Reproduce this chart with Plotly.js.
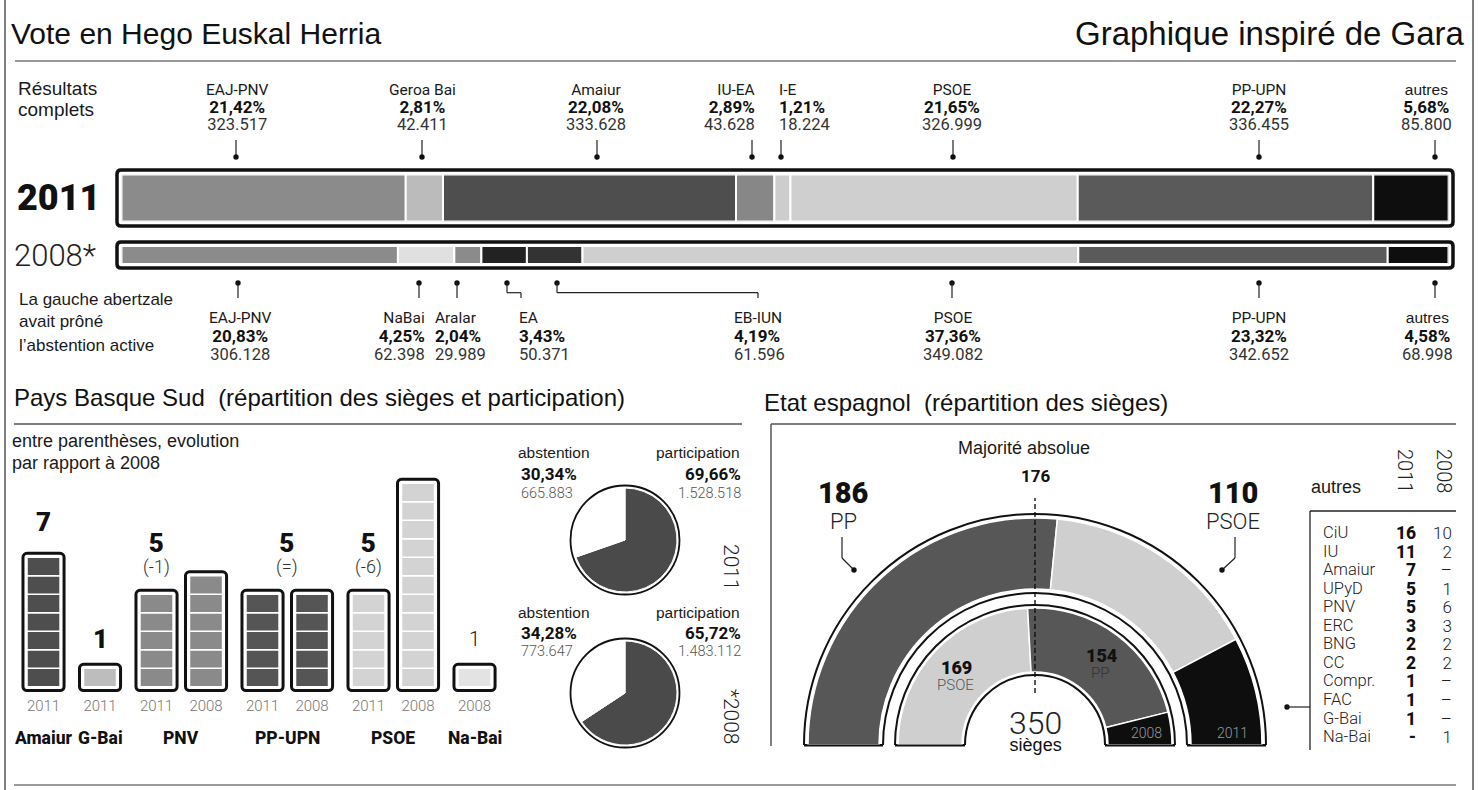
<!DOCTYPE html>
<html><head><meta charset="utf-8">
<script src="https://cdn.plot.ly/plotly-3.0.1.min.js"></script>
<style>html,body{margin:0;padding:0;background:#fff}#chart{width:1481px;height:790px}</style>
</head><body><div id="chart"></div>
<script>
// ================= DATA =================
const parties2011 = ['EAJ-PNV','Geroa Bai','Amaiur','IU-EA','I-E','PSOE','PP-UPN','autres'];
const pct2011 = [21.42,2.81,22.08,2.89,1.21,21.65,22.27,5.68];
const votes2011 = ['323.517','42.411','333.628','43.628','18.224','326.999','336.455','85.800'];

const parties2008 = ['EAJ-PNV','NaBai','Aralar','EA','EB-IUN','PSOE','PP-UPN','autres'];
const pct2008 = [20.83,4.25,2.04,3.43,4.19,37.36,23.32,4.58];
const votes2008 = ['306.128','62.398','29.989','50.371','61.596','349.082','342.652','68.998'];

const seatParty = ['Amaiur','G-Bai','PNV','PNV','PP-UPN','PP-UPN','PSOE','PSOE','Na-Bai'];
const seatYear  = ['2011','2011','2011','2008','2011','2008','2011','2008','2008'];
const seatCount = [7,1,5,6,5,5,5,11,1];
const headParty  = ['Amaiur','G-Bai','PNV','PP-UPN','PSOE','Na-Bai'];
const headValue  = ['7','1','5','5','5','1'];
const headChange = ['','','(-1)','(=)','(-6)',''];

const turnoutYears = ['2011','*2008'];
const participationPct = [69.66,65.72];
const abstentionPct = [30.34,34.28];
const participationVotes = ['1.528.518','1.483.112'];
const abstentionVotes = ['665.883','773.647'];

const congress2011Parties = ['PP','PSOE','autres'];
const congress2011Seats = [186,110,54];
const congress2008Parties = ['PSOE','PP','autres'];
const congress2008Seats = [169,154,27];
const totalSeats = 350;
const majority = 176;

const otherParties = ['CiU','IU','Amaiur','UPyD','PNV','ERC','BNG','CC','Compr.','FAC','G-Bai','Na-Bai'];
const other2011 = ['16','11','7','5','5','3','2','2','1','1','1','-'];
const other2008 = ['10','2','–','1','6','3','2','2','–','–','–','1'];

// ================= STYLE / LAYOUT HELPERS =================
const W=1481,H=790;
const px=x=>x/W, py=y=>1-y/H;
const ROB='Roboto, "Noto Sans", sans-serif';
const ARI='"Liberation Sans", Arial, sans-serif';
const col2011 = {'EAJ-PNV':'#8b8b8b','Geroa Bai':'#bbbbbb','Amaiur':'#4e4e4e','IU-EA':'#878787','I-E':'#cdcdcd','PSOE':'#cfcfcf','PP-UPN':'#5a5a5a','autres':'#0e0e0e'};
const col2008 = {'EAJ-PNV':'#8b8b8b','NaBai':'#e0e0e0','Aralar':'#8b8b8b','EA':'#222222','EB-IUN':'#333333','PSOE':'#cfcfcf','PP-UPN':'#5a5a5a','autres':'#0e0e0e'};
const seatCol = {'Amaiur':'#4e4e4e','G-Bai':'#bdbdbd','PNV':'#8a8a8a','PP-UPN':'#555555','PSOE':'#d3d3d3','Na-Bai':'#e3e3e3'};
const congCol = {'PP':'#575757','PSOE':'#cfcfcf','autres':'#0e0e0e'};

const annotations=[], shapes=[];
function txt(text,x,y,o={}){
  annotations.push({text:text,x:px(x),y:py(y),xref:'paper',yref:'paper',showarrow:false,
    xanchor:o.xa||'center',yanchor:o.ya||'middle',textangle:o.rot||0,align:o.al||'center',
    font:{family:o.f||ROB,size:o.s||15,color:o.c||'#1a1a1a',weight:o.w||400}});
}
function seg(x0,y0,x1,y1,o={}){
  shapes.push({type:'line',xref:'paper',yref:'paper',x0:px(x0),y0:py(y0),x1:px(x1),y1:py(y1),
    line:{color:o.c||'#222',width:o.w||1.2,dash:o.d||'solid'},layer:o.layer||'above'});
}
function dot(x,y,r){r=r||2.7;
  shapes.push({type:'circle',xref:'paper',yref:'paper',x0:px(x-r),x1:px(x+r),y0:py(y+r),y1:py(y-r),fillcolor:'#111',line:{width:0}});
}
function circ(cx,cy,r,w){
  shapes.push({type:'circle',xref:'paper',yref:'paper',x0:px(cx-r),x1:px(cx+r),y0:py(cy+r),y1:py(cy-r),fillcolor:'rgba(0,0,0,0)',line:{color:'#111',width:w||1.5},layer:'above'});
}
function rrect(x0,y0,x1,y1,r){
  const p=`M${px(x0+r)},${py(y0)} L${px(x1-r)},${py(y0)} Q${px(x1)},${py(y0)} ${px(x1)},${py(y0+r)} L${px(x1)},${py(y1-r)} Q${px(x1)},${py(y1)} ${px(x1-r)},${py(y1)} L${px(x0+r)},${py(y1)} Q${px(x0)},${py(y1)} ${px(x0)},${py(y1-r)} L${px(x0)},${py(y0+r)} Q${px(x0)},${py(y0)} ${px(x0+r)},${py(y0)} Z`;
  shapes.push({type:'path',xref:'paper',yref:'paper',path:p,line:{color:'#111',width:3.5},fillcolor:'#fff',layer:'below'});
}
const fmtPct=v=>v.toFixed(2).replace('.',',')+'%';
const cumul=a=>a.map((v,i)=>a.slice(0,i).reduce((s,x)=>s+x,0));
// three-line party label (name / bold % / votes) as one text block
function label3(name,pct,votes,x,yMid,anchor,spacing){
  const isAri=(name==='autres');
  const t='<span style="font-size:15.5px">'+name+'</span><br>'+
    '<span style="font-size:17px;font-weight:700;color:#111;font-family:Roboto">'+pct+'</span><br>'+
    '<span style="font-size:16.5px;color:#333;font-family:Roboto">'+votes+'</span>';
  txt(t,x,yMid,{xa:anchor,al:anchor,f:isAri?ARI:ROB,s:spacing/1.3,c:'#1a1a1a'});
}

const traces=[];

// ================= FRAME LINES =================
seg(5,0,5,790,{c:'#555',w:1.5});
seg(1473,0,1473,790,{c:'#555',w:1.5});
seg(15,61,1456,61,{c:'#777',w:1.5});
seg(14,424,742,424,{c:'#555',w:1.5});
seg(771,424,1456,424,{c:'#555',w:1.5});
seg(771,424,771,746,{c:'#555',w:1.5});
seg(14,785,1456,785,{c:'#777',w:1.5});

txt('Vote en Hego Euskal Herria',9,33,{xa:'left',f:ARI,s:30,c:'#111'});
txt('Graphique inspiré de Gara',1467,33,{xa:'right',f:ARI,s:33,c:'#111'});

// ================= HORIZONTAL STACKED BARS =================
rrect(117,170,1453,226,4);
rrect(117,242,1453,268,4);
traces.push({type:'bar',orientation:'h',xaxis:'x',yaxis:'y',y:pct2011.map(()=>0),x:pct2011,base:cumul(pct2011),width:1,
  marker:{color:parties2011.map(p=>col2011[p]),line:{color:'#fff',width:2}},hoverinfo:'skip'});
traces.push({type:'bar',orientation:'h',xaxis:'x2',yaxis:'y2',y:pct2008.map(()=>0),x:pct2008,base:cumul(pct2008),width:1,
  marker:{color:parties2008.map(p=>col2008[p]),line:{color:'#fff',width:2}},hoverinfo:'skip'});

txt('Résultats',16,88,{xa:'left',f:ARI,s:19});
txt('complets',16,110,{xa:'left',f:ARI,s:19});
txt('2011',15,198,{xa:'left',s:36,w:900,c:'#111'});
txt('2008*',12,256,{xa:'left',s:31,w:300,c:'#222'});
txt('La gauche abertzale',17,299,{xa:'left',f:ARI,s:17});
txt('avait prôné',17,322,{xa:'left',f:ARI,s:17});
txt('l’abstention active',17,345,{xa:'left',f:ARI,s:17});

const lab2011=[[237,'center'],[422,'center'],[596,'center'],[757,'right'],[777,'left'],[952,'center'],[1259,'center'],[1426,'center']];
const dot2011=[236,422,597,752,781,953,1259,1435];
parties2011.forEach((p,i)=>{
  const [x,a]=lab2011[i];
  label3(p,fmtPct(pct2011[i]),votes2011[i],x,108,a,17.75);
  seg(dot2011[i],140,dot2011[i],157);
  dot(dot2011[i],157);
});

const lab2008=[[240,'center'],[427,'right'],[433,'left'],[517,'left'],[732,'left'],[953,'center'],[1259,'center'],[1427,'center']];
const dot2008=[238,419,457,507,557,952,1259,1435];
const elbow2008=[null,null,null,521,758,null,null,null];
parties2008.forEach((p,i)=>{
  const [x,a]=lab2008[i];
  label3(p,fmtPct(pct2008[i]),votes2008[i],x,336.5,a,18.5);
  dot(dot2008[i],283);
  if(elbow2008[i]===null){ seg(dot2008[i],283,dot2008[i],298); }
  else { seg(dot2008[i],283,dot2008[i],292.7); seg(dot2008[i],292.7,elbow2008[i],292.7); seg(elbow2008[i],292.7,elbow2008[i],298); }
});

// ================= SEAT BARS (Pays Basque Sud) =================
txt('Pays Basque Sud  (répartition des sièges et participation)',12,397,{xa:'left',f:ARI,s:24,c:'#111'});
txt('entre parenthèses, evolution',10,441,{xa:'left',f:ARI,s:18});
txt('par rapport à 2008',10,463,{xa:'left',f:ARI,s:18});

let g=-1, prev=null; const groupIdx=seatParty.map(p=>{if(p!==prev){g++;prev=p;}return g;});
const seatX=seatParty.map((p,i)=>i+0.1414*groupIdx[i]);
traces.push({type:'bar',xaxis:'x3',yaxis:'y3',x:seatX,y:seatCount.map(n=>n+0.42),base:-0.21,width:0.83,
  marker:{color:'#fff',line:{color:'#111',width:3},cornerradius:4},hoverinfo:'skip'});
const cellX=[],cellB=[],cellC=[];
seatCount.forEach((n,i)=>{for(let k=0;k<n;k++){cellX.push(seatX[i]);cellB.push(k);cellC.push(seatCol[seatParty[i]]);}});
traces.push({type:'bar',xaxis:'x3',yaxis:'y3',x:cellX,y:cellX.map(()=>1),base:cellB,width:0.667,
  marker:{color:cellC,line:{color:'#fff',width:1.5}},hoverinfo:'skip'});

headParty.forEach((p,j)=>{
  const idx=seatParty.map((q,i)=>q===p?i:-1).filter(i=>i>=0);
  let xs, top;
  if(headChange[j]==='(=)'){ xs=idx.reduce((s,i)=>s+seatX[i],0)/idx.length; top=seatCount[idx[0]]; }
  else { const i0=idx.find(i=>seatYear[i]==='2011'); const ii=(i0===undefined)?idx[0]:i0; xs=seatX[ii]; top=seatCount[ii]; }
  const thin=(p==='Na-Bai');
  const hasCh=headChange[j]!=='';
  if(hasCh){
    annotations.push({text:'<span style="font-size:26px;font-weight:900;color:#111">'+headValue[j]+'</span><br><span style="font-size:18px">'+headChange[j]+'</span>',
      x:xs,y:top,xref:'x3',yref:'y3',showarrow:false,xanchor:'center',yanchor:'bottom',yshift:14,
      font:{family:ROB,size:16.2,weight:300,color:'#333'}});
  } else {
    annotations.push({text:headValue[j],x:xs,y:top,xref:'x3',yref:'y3',showarrow:false,xanchor:'center',yanchor:'middle',
      yshift:(p==='Amaiur'?35:29),font:{family:ROB,size:thin?20:26,weight:thin?300:900,color:'#111'}});
  }
  const gx=idx.reduce((s,i)=>s+seatX[i],0)/idx.length;
  annotations.push({text:p,x:gx,y:py(738),xref:'x3',yref:'paper',showarrow:false,xanchor:'center',yanchor:'middle',
    font:{family:ROB,size:17.5,weight:800,color:'#111'}});
});

// ================= PIES =================
const pieC=[[625,540],[625,693]];
const pieTxtY=[[453,474,493],[612,633,651]];
turnoutYears.forEach((yr,i)=>{
  const [cx,cy]=pieC[i], r=52;
  traces.push({type:'pie',values:[participationPct[i],abstentionPct[i]],labels:['participation','abstention'],sort:false,
    direction:'clockwise',rotation:0,textinfo:'none',hoverinfo:'skip',
    marker:{colors:['#4a4a4a','#ffffff'],line:{color:'#fff',width:1}},
    domain:{x:[px(cx-r),px(cx+r)],y:[py(cy+r),py(cy-r)]}});
  circ(cx,cy,54.5,1.8);
  const [y1,y2,y3]=pieTxtY[i];
  txt('abstention',516,y1,{xa:'left',f:ARI,s:15.5});
  txt(fmtPct(abstentionPct[i]),519,y2,{xa:'left',w:700,s:17,c:'#111'});
  txt(abstentionVotes[i],519,y3,{xa:'left',w:300,s:14.5,c:'#555'});
  txt('participation',742,y1,{xa:'right',f:ARI,s:15.5});
  txt(fmtPct(participationPct[i]),743,y2,{xa:'right',w:700,s:17,c:'#111'});
  txt(participationVotes[i],743,y3,{xa:'right',w:300,s:14.5,c:'#555'});
  txt(yr,731,i===0?567:717,{rot:90,s:21,w:300,c:'#222'});
});

// ================= HEMICYCLE (Etat espagnol) =================
txt('Etat espagnol  (répartition des sièges)',762,402,{xa:'left',f:ARI,s:24,c:'#111'});
const HC=[1035,745], HR=248;
const ringsDef=[[156,227,152,231],[73,137,70,140]];
function ring(parties,seats,r0,r1,o0,o1){
  traces.push({type:'barpolar',subplot:'polar',r:[o1-o0],base:[o0],theta:[90],width:[180],
    marker:{color:'#fff',line:{color:'#111',width:2}},hoverinfo:'skip'});
  const cum=cumul(seats);
  traces.push({type:'barpolar',subplot:'polar',r:seats.map(()=>r1-r0),base:seats.map(()=>r0),
    theta:seats.map((s,i)=>180-(cum[i]+s/2)/totalSeats*180),width:seats.map(s=>s/totalSeats*180),
    marker:{color:parties.map(p=>congCol[p]),line:{color:'#fff',width:1.5}},hoverinfo:'skip'});
  seg(HC[0]-o1,HC[1]+0.5,HC[0]-o0,HC[1]+0.5,{c:'#111',w:2});
  seg(HC[0]+o0,HC[1]+0.5,HC[0]+o1,HC[1]+0.5,{c:'#111',w:2});
}
ring(congress2011Parties,congress2011Seats,...ringsDef[0]);
ring(congress2008Parties,congress2008Seats,...ringsDef[1]);
const majTheta=180-(majority-1)/totalSeats*180;
traces.push({type:'scatterpolar',subplot:'polar',r:[52,247],theta:[majTheta,majTheta],mode:'lines',cliponaxis:false,
  line:{color:'#111',width:1.4,dash:'5px,3px'},hoverinfo:'skip'});

txt('Majorité absolue',1024,448,{f:ARI,s:18});
txt(String(majority),1036,476,{w:700,s:17,c:'#111'});
txt(String(congress2011Seats[0]),843,493,{w:900,s:29,c:'#111'});
txt(congress2011Parties[0],843,521,{w:300,s:22,c:'#222'});
seg(842,537,842,558); seg(842,558,854,570); dot(854,570);
txt(String(congress2011Seats[1]),1233,493,{w:900,s:29,c:'#111'});
txt(congress2011Parties[1],1233,521,{w:300,s:22,c:'#222'});
seg(1235,537,1235,558); seg(1235,558,1222,570); dot(1222,570);
txt(String(congress2008Seats[0]),956,667,{w:900,s:18,c:'#111'});
txt(congress2008Parties[0],955,685,{w:300,s:15,c:'#555'});
txt(String(congress2008Seats[1]),1101,655,{w:900,s:18,c:'#111'});
txt(congress2008Parties[1],1100,673,{w:300,s:15,c:'#333'});
txt('<span style="font-size:32px;font-weight:300;color:#222;font-family:Roboto">'+totalSeats+'</span><br><span style="font-size:18px">sièges</span>',
  1035,729,{f:ARI,s:13,c:'#111'});
txt('2008',1146,733,{w:300,s:14,c:'#999'});
txt('2011',1232,733,{w:300,s:14,c:'#999'});

// ================= TABLE "autres" =================
txt('autres',1309,487,{xa:'left',f:ARI,s:18});
txt('2011',1405,471,{rot:90,s:20,w:300,c:'#222'});
txt('2008',1444,471,{rot:90,s:20,w:300,c:'#222'});
seg(1310,511,1310,750,{c:'#222',w:1.3});
seg(1310,511,1456,511,{c:'#222',w:1.3});
dot(1287,707); seg(1287,707,1310,707);
const rowBase=18.55/1.3, tableMid=532.7+(otherParties.length-1)*18.55/2;
txt(otherParties.map(p=>'<span style="font-size:16.5px">'+p+'</span>').join('<br>'),1321,tableMid,{xa:'left',al:'left',s:rowBase,w:300,c:'#222'});
txt(other2011.map(v=>'<span style="font-size:17.5px">'+v+'</span>').join('<br>'),1418,tableMid,{xa:'right',al:'right',s:rowBase,w:800,c:'#111'});
txt(other2008.map(v=>'<span style="font-size:17px">'+v+'</span>').join('<br>'),1454,tableMid,{xa:'right',al:'right',s:rowBase,w:300,c:'#222'});

// ================= LAYOUT =================
const layout={
  width:W,height:H,margin:{l:0,r:0,t:0,b:0},paper_bgcolor:'#fff',plot_bgcolor:'rgba(0,0,0,0)',showlegend:false,
  barmode:'overlay',
  xaxis:{domain:[px(121.5),px(1448.5)],range:[0,100],visible:false,fixedrange:true,anchor:'y'},
  yaxis:{domain:[py(221.5),py(174.5)],range:[-0.5,0.5],visible:false,fixedrange:true,anchor:'x'},
  xaxis2:{domain:[px(121.5),px(1448.5)],range:[0,100],visible:false,fixedrange:true,anchor:'y2'},
  yaxis2:{domain:[py(264),py(246)],range:[-0.5,0.5],visible:false,fixedrange:true,anchor:'x2'},
  xaxis3:{domain:[px(15.8),px(501.9)],range:[-0.56,9.26],anchor:'y3',tickvals:seatX,ticktext:seatYear,
    showgrid:false,zeroline:false,showline:false,ticks:'',ticklabelstandoff:3,
    tickfont:{family:ROB,size:15,weight:300,color:'#777'}},
  yaxis3:{domain:[py(692.25),py(464.7)],range:[-0.3,12],visible:false,anchor:'x3'},
  polar:{domain:{x:[px(HC[0]-HR),px(HC[0]+HR)],y:[py(HC[1]),py(HC[1]-HR)]},sector:[0,180],bgcolor:'rgba(0,0,0,0)',barmode:'overlay',
    radialaxis:{range:[0,HR],visible:false,showgrid:false,showline:false,showticklabels:false,ticks:''},
    angularaxis:{visible:false,showgrid:false,showline:false,showticklabels:false,ticks:'',rotation:0,direction:'counterclockwise'}},
  annotations:annotations,shapes:shapes
};
Plotly.newPlot('chart',traces,layout,{displayModeBar:false,staticPlot:true});
</script></body></html>
